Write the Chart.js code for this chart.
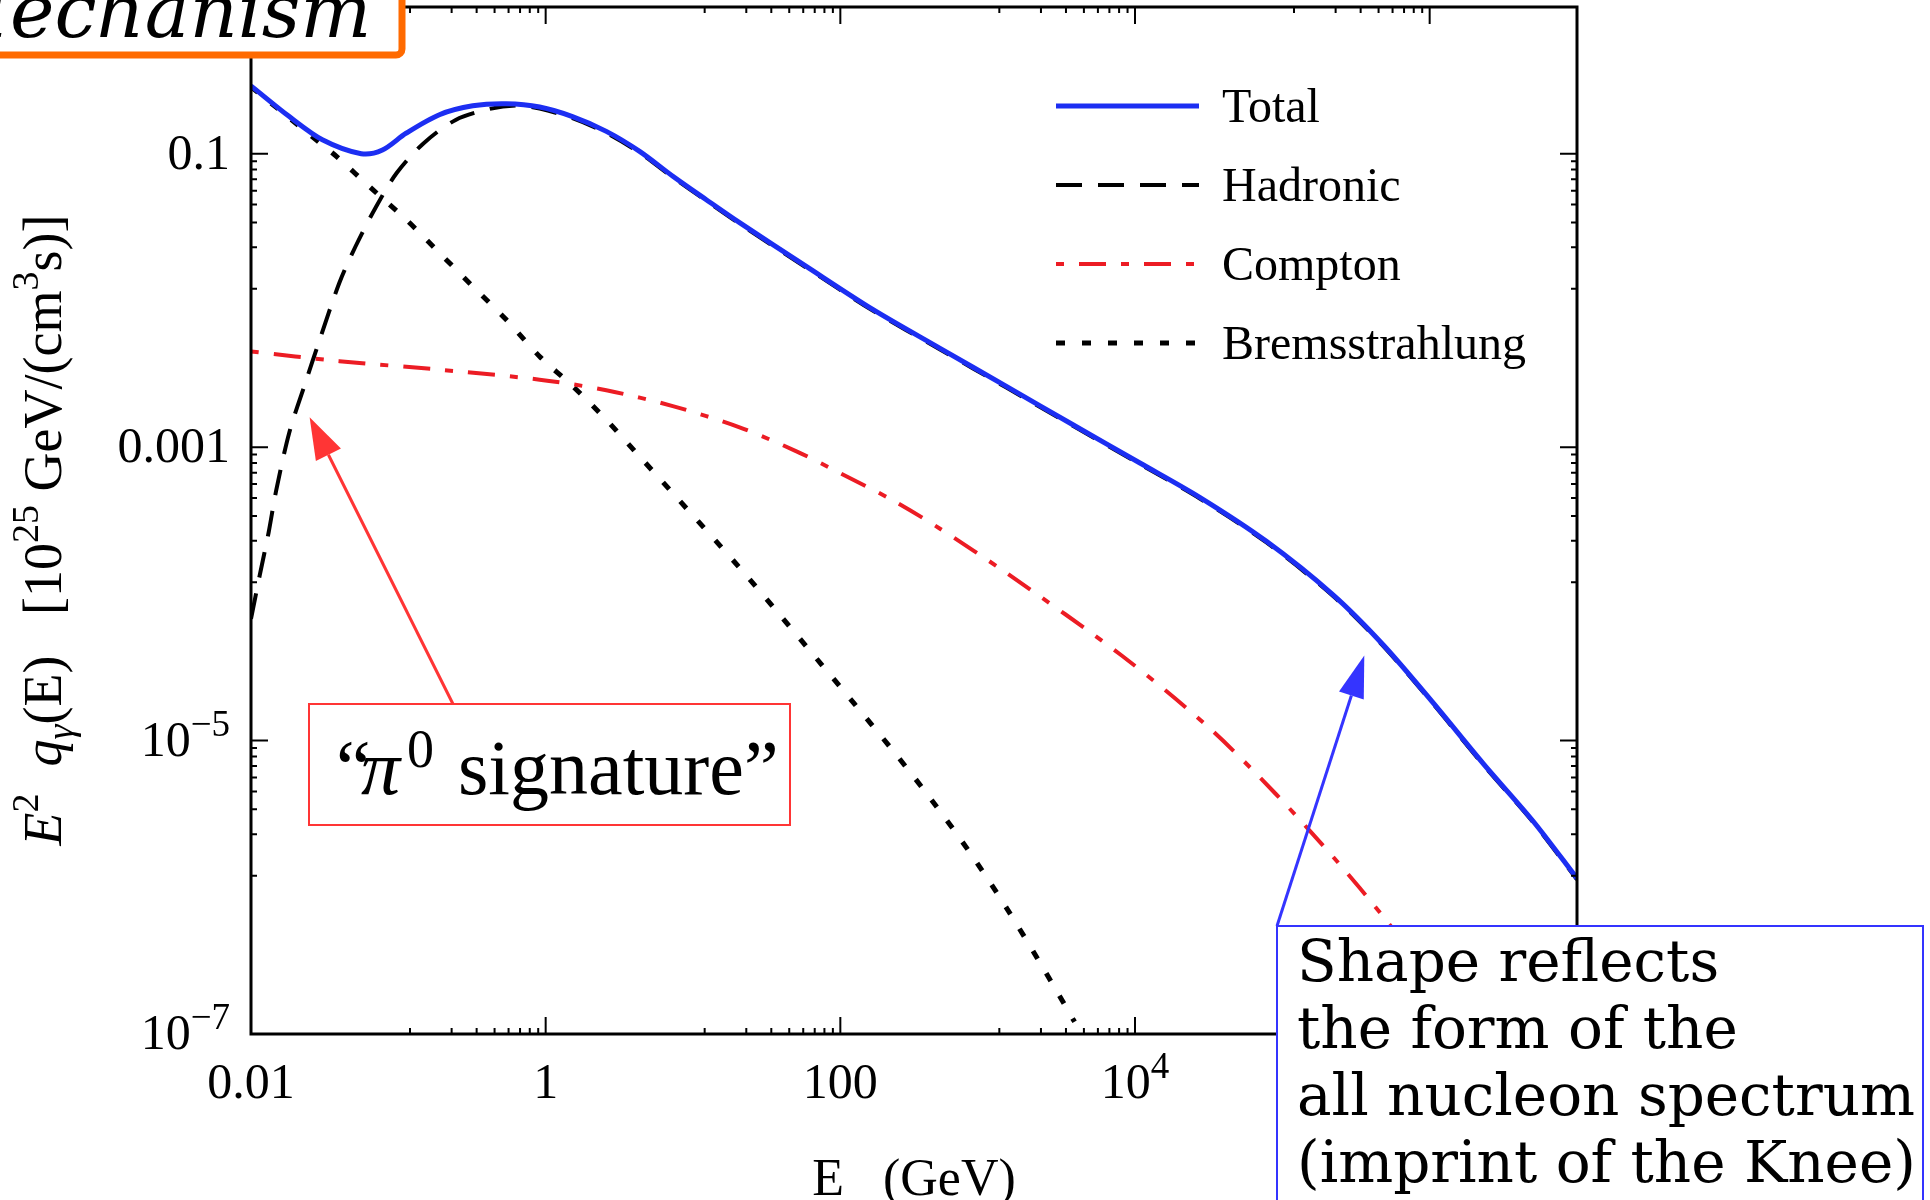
<!DOCTYPE html>
<html>
<head>
<meta charset="utf-8">
<title>Gamma-ray emissivity</title>
<script src="https://cdn.jsdelivr.net/npm/chart.js@4.4.1/dist/chart.umd.min.js"></script>
<style>
  html, body { margin: 0; padding: 0; background: #fff; }
  #wrap { width: 1930px; height: 1200px; }
</style>
</head>
<body>
<div id="wrap"><canvas id="spectrum" width="1930" height="1200"></canvas></div>
<script>
// photon energy E (GeV) and E^2 q(E) in 1e25 GeV/(cm^3 s)
const totalE = [0.01, 0.0182, 0.0305, 0.056, 0.078, 0.113, 0.19, 0.32, 0.54, 0.91, 1.52, 2.58, 4.34, 7.3, 12.3, 20.7,
  58.7, 167, 472, 1340, 3790, 10800, 27500, 78000, 221000, 483000, 1.05e6, 2.31e6, 5.04e6, 1e7];
const totalQ = [0.290, 0.179, 0.1245, 0.100, 0.106, 0.138, 0.1845, 0.212, 0.219, 0.208, 0.179, 0.142, 0.1038, 0.0702, 0.0486, 0.0339,
  0.01706, 0.00865, 0.00473, 0.002594, 0.001422, 7.80e-4, 4.55e-4, 2.28e-4, 9.84e-5, 4.50e-5, 1.82e-5, 6.97e-6, 2.82e-6, 1.15e-6];

const hadronicE = [0.01, 0.01148, 0.01318, 0.01479, 0.0182, 0.0234, 0.0292, 0.0398, 0.0513, 0.0708, 0.0977, 0.148, 0.245, 0.417, 0.631, 0.91,
  1.52, 2.58, 4.34, 7.3, 12.3, 20.7, 58.7, 167, 472, 1340, 3790, 10800, 27500, 78000, 221000, 483000, 1.05e6, 2.31e6, 5.04e6, 1e7];
const hadronicQ = [6.76e-5, 1.35e-4, 2.63e-4, 5.01e-4, 1.26e-3, 2.75e-3, 5.37e-3, 0.0132, 0.0234, 0.0437, 0.0741, 0.1175, 0.170, 0.202, 0.213, 0.203,
  0.1746, 0.1387, 0.1016, 0.0689, 0.0478, 0.0333, 0.01675, 0.00849, 0.00465, 0.002547, 0.001396, 7.66e-4, 4.47e-4, 2.24e-4, 9.66e-5, 4.42e-5, 1.79e-5, 6.84e-6, 2.77e-6, 1.13e-6];

const comptonE = [0.01, 0.0398, 0.1905, 0.91, 2.58, 7.29, 20.7, 50.8, 98.9, 227, 472, 1365, 8200, 32100, 90000, 234000, 471000, 890000];
const comptonQ = [4.49e-3, 3.855e-3, 3.373e-3, 2.884e-3, 2.443e-3, 1.905e-3, 1.365e-3, 9.33e-4, 6.68e-4, 4.34e-4, 2.79e-4, 1.371e-4,
  3.77e-5, 1.213e-5, 4.34e-6, 1.51e-6, 6.53e-7, 2.85e-7];

const bremsE = [0.01, 0.01824, 0.0305, 0.038, 0.0671, 0.1132, 0.1905, 0.3206, 0.541, 0.91, 1.531, 2.576, 4.335, 7.29,
  20.9, 37.9, 68.5, 124.7, 227, 413, 750, 1365, 2483, 3890];
const bremsQ = [0.2858, 0.175, 0.1148, 0.0959, 0.0569, 0.0355, 0.02104, 0.01245, 0.00738, 0.00415, 0.002594, 0.001538, 8.65e-4, 4.86e-4,
  1.493e-4, 7.41e-5, 3.65e-5, 1.778e-5, 8.57e-6, 3.98e-6, 1.75e-6, 7.05e-7, 2.62e-7, 1.21e-7];

// axis ticks ("^" marks a superscript)
const xMajor = [0.01, 1, 100, 1e4, 1e6];
const xTickLabels = ['0.01', '1', '100', '10^4', '10^6'];
const yMajor = [1e-7, 1e-5, 1e-3, 0.1];
const yTickLabels = ['10^\u22127', '10^\u22125', '0.001', '0.1'];

// where the two callout arrows point (E, value)
const pionTip = [0.025, 1.6e-3];
const kneeTip = [3.6e5, 3.8e-5];

const serif = '"Liberation Serif", "Times New Roman", serif';
const dejavu = '"DejaVu Serif", serif';

const pairs = (xs, ys) => xs.map((v, i) => ({ x: v, y: ys[i] }));

// minor ticks sit at equal linear steps between two majors
function minorTicks(majors, max) {
  const out = [];
  majors.forEach(a => {
    const b = a * 100;
    for (let k = 1; k <= 8; k++) {
      const v = a + k * (b - a) / 9;
      if (v < max) out.push(v);
    }
  });
  return out;
}

// draws a run of text pieces; s = size factor, r = rise (in em), i = italic
function drawRich(ctx, parts, x, y, size, family, align) {
  const font = p => (p.i ? 'italic ' : '') + Math.round(size * (p.s || 1)) + 'px ' + family;
  let w = 0;
  parts.forEach(p => { ctx.font = font(p); w += ctx.measureText(p.t).width; });
  let cx = align === 'center' ? x - w / 2 : align === 'right' ? x - w : x;
  ctx.textAlign = 'left';
  ctx.textBaseline = 'alphabetic';
  parts.forEach(p => {
    ctx.font = font(p);
    ctx.fillText(p.t, cx, y - (p.r || 0) * size);
    cx += ctx.measureText(p.t).width;
  });
}

function tickParts(str) {
  const [base, sup] = str.split('^');
  const parts = [{ t: base }];
  if (sup) parts.push({ t: sup, s: 0.74, r: 0.4 });
  return parts;
}

function arrow(ctx, x0, y0, x1, y1, color, head, half) {
  const dx = x1 - x0, dy = y1 - y0, len = Math.hypot(dx, dy);
  const ux = dx / len, uy = dy / len;
  const bx = x1 - ux * head, by = y1 - uy * head;
  ctx.strokeStyle = color;
  ctx.fillStyle = color;
  ctx.lineWidth = 3;
  ctx.beginPath();
  ctx.moveTo(x0, y0);
  ctx.lineTo(bx, by);
  ctx.stroke();
  ctx.beginPath();
  ctx.moveTo(x1, y1);
  ctx.lineTo(bx - uy * half, by + ux * half);
  ctx.lineTo(bx + uy * half, by - ux * half);
  ctx.closePath();
  ctx.fill();
}

// boxed frame with inward ticks on all four sides, labels and axis titles
const axesFrame = {
  id: 'axesFrame',
  afterDraw(chart) {
    const { ctx, chartArea: a, scales: { x, y } } = chart;
    ctx.save();
    ctx.strokeStyle = '#000';
    ctx.lineWidth = 3;
    ctx.strokeRect(a.left, a.top, a.right - a.left, a.bottom - a.top);

    ctx.lineWidth = 2;
    ctx.beginPath();
    const tickX = (v, len) => {
      const p = x.getPixelForValue(v);
      ctx.moveTo(p, a.bottom); ctx.lineTo(p, a.bottom - len);
      ctx.moveTo(p, a.top); ctx.lineTo(p, a.top + len);
    };
    const tickY = (v, len) => {
      const p = y.getPixelForValue(v);
      ctx.moveTo(a.left, p); ctx.lineTo(a.left + len, p);
      ctx.moveTo(a.right, p); ctx.lineTo(a.right - len, p);
    };
    xMajor.forEach(v => tickX(v, 17));
    minorTicks(xMajor, 1e7).forEach(v => tickX(v, 6));
    yMajor.forEach(v => tickY(v, 17));
    minorTicks(yMajor, 1).forEach(v => tickY(v, 6));
    ctx.stroke();

    ctx.fillStyle = '#000';
    xMajor.forEach((v, i) => {
      drawRich(ctx, tickParts(xTickLabels[i]), x.getPixelForValue(v), a.bottom + 64, 50, serif, 'center');
    });
    yMajor.forEach((v, i) => {
      drawRich(ctx, tickParts(yTickLabels[i]), a.left - 21, y.getPixelForValue(v) + 15, 50, serif, 'right');
    });

    drawRich(ctx, [{ t: 'E   (GeV)' }], (a.left + a.right) / 2, a.bottom + 161, 52, serif, 'center');

    ctx.save();
    ctx.translate(61, 530);
    ctx.rotate(-Math.PI / 2);
    drawRich(ctx, [
      { t: 'E', i: true }, { t: '2', s: 0.7, r: 0.42 }, { t: '  ' },
      { t: 'q', i: true }, { t: '\u03b3', i: true, s: 0.7, r: -0.22 }, { t: '(E)' },
      { t: '   [10' }, { t: '25', s: 0.7, r: 0.42 }, { t: ' GeV/(cm' }, { t: '3', s: 0.7, r: 0.42 }, { t: 's)]' }
    ], 0, 0, 54, serif, 'center');
    ctx.restore();
    ctx.restore();
  }
};

// legend, title tab and the two callouts
const overlays = {
  id: 'overlays',
  afterDraw(chart) {
    const { ctx, chartArea: a, scales: { x, y } } = chart;
    ctx.save();

    chart.data.datasets.forEach((ds, i) => {
      const ly = a.top + 99 + i * 79;
      ctx.strokeStyle = ds.borderColor;
      ctx.lineWidth = ds.borderWidth;
      ctx.setLineDash(ds.borderDash || []);
      ctx.lineDashOffset = ds.borderDashOffset || 0;
      ctx.beginPath();
      ctx.moveTo(a.right - 521, ly);
      ctx.lineTo(a.right - 378, ly);
      ctx.stroke();
      ctx.setLineDash([]);
      ctx.fillStyle = '#000';
      drawRich(ctx, [{ t: ds.label }], a.right - 355, ly + 16, 48, serif, 'left');
    });

    // title tab running off the top-left corner
    ctx.fillStyle = '#fff';
    ctx.strokeStyle = '#ff6a00';
    ctx.lineWidth = 7;
    ctx.beginPath();
    ctx.roundRect(-30, -30, 432, 85, 6);
    ctx.fill();
    ctx.stroke();
    ctx.fillStyle = '#000';
    ctx.font = 'italic 75px ' + dejavu;
    ctx.textAlign = 'left';
    ctx.textBaseline = 'alphabetic';
    ctx.fillText('Mechanism', 10 - ctx.measureText('M').width, 37);

    // pi0 callout
    const red = '#ff3535';
    arrow(ctx, 453, 704, x.getPixelForValue(pionTip[0]), y.getPixelForValue(pionTip[1]), red, 42, 14);
    ctx.fillStyle = '#fff';
    ctx.fillRect(309, 704, 481, 121);
    ctx.strokeStyle = red;
    ctx.lineWidth = 2;
    ctx.strokeRect(309, 704, 481, 121);
    ctx.fillStyle = '#000';
    ctx.font = '78px ' + serif;
    ctx.fillText('\u201c', 336, 794);
    ctx.font = 'italic 78px ' + serif;
    ctx.fillText('\u03c0', 361, 794);
    ctx.font = '54px ' + serif;
    ctx.fillText('0', 407, 767);
    ctx.font = '78px ' + serif;
    ctx.fillText('signature\u201d', 458, 794);

    // knee callout
    const blue = '#3434ff';
    arrow(ctx, 1277, 926, x.getPixelForValue(kneeTip[0]), y.getPixelForValue(kneeTip[1]), blue, 42, 13);
    ctx.fillStyle = '#fff';
    ctx.fillRect(1277, 926, 646, 300);
    ctx.strokeStyle = blue;
    ctx.lineWidth = 2;
    ctx.strokeRect(1277, 926, 646, 300);
    ctx.fillStyle = '#000';
    ctx.font = '58px ' + dejavu;
    ['Shape reflects', 'the form of the', 'all nucleon spectrum', '(imprint of the Knee)']
      .forEach((line, i) => ctx.fillText(line, 1297, 981 + i * 67));

    ctx.restore();
  }
};

new Chart(document.getElementById('spectrum'), {
  type: 'scatter',
  data: {
    datasets: [
      { label: 'Total', data: pairs(totalE, totalQ), showLine: true,
        borderColor: '#1c2ef2', borderWidth: 5 },
      { label: 'Hadronic', data: pairs(hadronicE, hadronicQ), showLine: true,
        borderColor: '#000', borderWidth: 4, borderDash: [26, 16] },
      { label: 'Compton', data: pairs(comptonE, comptonQ), showLine: true,
        borderColor: '#ec1c24', borderWidth: 4, borderDash: [27, 15, 8, 15], borderDashOffset: 42 },
      { label: 'Bremsstrahlung', data: pairs(bremsE, bremsQ), showLine: true,
        borderColor: '#000', borderWidth: 5, borderDash: [9, 17] }
    ]
  },
  options: {
    responsive: false,
    animation: false,
    devicePixelRatio: 1,
    events: [],
    layout: { padding: { left: 251, top: 7, right: 353, bottom: 166 } },
    elements: {
      point: { radius: 0 },
      line: { tension: 0.3, borderCapStyle: 'butt', fill: false }
    },
    scales: {
      x: { type: 'logarithmic', min: 0.01, max: 1e7, display: false },
      y: { type: 'logarithmic', min: 1e-7, max: 1, display: false }
    },
    plugins: { legend: { display: false }, tooltip: { enabled: false } }
  },
  plugins: [axesFrame, overlays]
});
</script>
</body>
</html>
